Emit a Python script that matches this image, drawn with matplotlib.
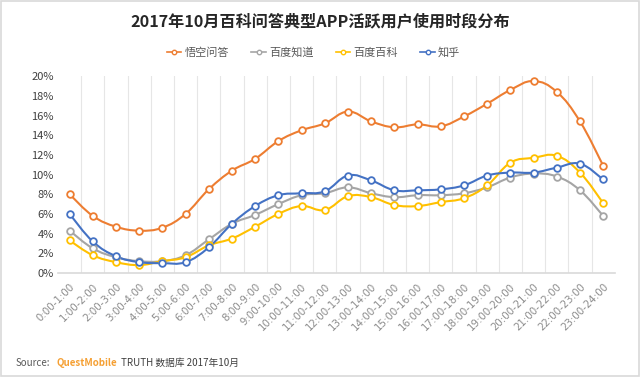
import numpy as np
import matplotlib
matplotlib.use("Agg")
import matplotlib.pyplot as plt
from matplotlib.path import Path
from matplotlib.patches import PathPatch, Rectangle
from matplotlib.lines import Line2D
from matplotlib.ticker import FuncFormatter

plt.rcParams['font.family'] = ['Noto Sans CJK SC', 'DejaVu Sans']

hours = [f"{h}:00-{h + 1}:00" for h in range(24)]
wukong = [8.0, 5.8, 4.7, 4.3, 4.6, 6.0, 8.5, 10.4, 11.6, 13.4, 14.5, 15.2,
          16.4, 15.4, 14.8, 15.1, 14.9, 15.9, 17.2, 18.6, 19.5, 18.4, 15.4, 10.9]
zhidao = [4.3, 2.5, 1.6, 1.2, 1.2, 1.8, 3.4, 5.0, 5.9, 7.0, 7.9, 8.1,
          8.7, 8.1, 7.7, 7.9, 7.9, 8.1, 8.7, 9.7, 10.1, 9.8, 8.4, 5.8]
baike = [3.3, 1.8, 1.1, 0.8, 1.2, 1.6, 2.8, 3.5, 4.7, 6.0, 6.8, 6.4,
         7.8, 7.7, 6.9, 6.8, 7.2, 7.6, 8.9, 11.2, 11.7, 11.9, 10.2, 7.1]
zhihu = [6.0, 3.2, 1.7, 1.1, 1.0, 1.1, 2.6, 5.0, 6.8, 7.9, 8.1, 8.3,
         9.9, 9.4, 8.4, 8.4, 8.5, 8.9, 9.9, 10.2, 10.2, 10.7, 11.1, 9.5]
names = ['悟空问答', '百度知道', '百度百科', '知乎']
colors = ['#ED7D31', '#A5A5A5', '#FFC000', '#4472C4']


def smooth_path(x, y, k=0.2):
    # bezier curve through the points (like excel smoothed line)
    x = np.asarray(x, float)
    y = np.asarray(y, float)
    verts = [(x[0], y[0])]
    codes = [Path.MOVETO]
    n = len(x)
    for i in range(n - 1):
        p0 = (x[max(i - 1, 0)], y[max(i - 1, 0)])
        p3 = (x[min(i + 2, n - 1)], y[min(i + 2, n - 1)])
        c1 = (x[i] + k * (x[i + 1] - p0[0]), y[i] + k * (y[i + 1] - p0[1]))
        c2 = (x[i + 1] - k * (p3[0] - x[i]), y[i + 1] - k * (p3[1] - y[i]))
        verts += [c1, c2, (x[i + 1], y[i + 1])]
        codes += [Path.CURVE4] * 3
    return Path(verts, codes)


fig = plt.figure(figsize=(6.4, 3.77), dpi=100)
fig.patches.append(Rectangle((0.002, 0.003), 0.996, 0.994, transform=fig.transFigure,
                             fill=False, edgecolor='#d9d9d9', lw=1.2))
ax = fig.add_axes([0.0906, 0.276, 0.870, 0.522])

x = np.arange(len(hours))
for data, c in zip([wukong, zhidao, baike, zhihu], colors):
    ax.add_patch(PathPatch(smooth_path(x, data), fill=False, edgecolor=c, lw=1.5, zorder=3))
    ax.plot(x, data, ls='none', marker='o', ms=4.8, mfc='white', mec=c, mew=1.3, zorder=4)

ax.set_xlim(-0.5, 23.5)
ax.set_ylim(0, 20)
ax.set_yticks(range(0, 21, 2))
ax.yaxis.set_major_formatter(FuncFormatter(lambda v, p: f"{int(v)}%"))
ax.set_xticks(x)
ax.set_xticklabels(hours, rotation=45, ha='right', rotation_mode='anchor',
                   fontsize=7.4, color='#8c8c8c', family='DejaVu Sans')
for t in ax.get_yticklabels():
    t.set_fontsize(8)
    t.set_color('#404040')
ax.tick_params(length=0, pad=3)
ax.tick_params(axis='x', pad=6)
for b in np.arange(0.5, 23.5, 1):
    ax.axvline(b, color='#e6e6e6', lw=0.8, zorder=1)
for s in ['top', 'right', 'left']:
    ax.spines[s].set_visible(False)
ax.spines['bottom'].set_color('#d9d9d9')
ax.spines['bottom'].set_linewidth(1.2)

fig.text(0.5, 0.945, '2017年10月百科问答典型APP活跃用户使用时段分布', ha='center', va='center',
         fontsize=11.6, fontweight='bold', color='#262626')
handles = [Line2D([], [], color=c, lw=1.2, marker='o', ms=3.2, mfc='white', mec=c)
           for c in colors]
fig.legend(handles, names, loc='center', bbox_to_anchor=(0.49, 0.86), ncol=4, frameon=False,
           fontsize=8, handlelength=1.3, handletextpad=0.3, columnspacing=2.0,
           labelcolor='#595959')

# source line, pieces chained one after the other
t1 = fig.text(0.025, 0.037, 'Source:', fontsize=7, color='#595959', va='center')
t2 = fig.text(0, 0, 'QuestMobile', fontsize=7, color='#F5A034', fontweight='bold', va='center')
t3 = fig.text(0, 0, 'TRUTH 数据库 2017年10月', fontsize=7, color='#404040', va='center')
fig.canvas.draw()
r = fig.canvas.get_renderer()
bb1 = t1.get_window_extent(r).transformed(fig.transFigure.inverted())
t2.set_position((bb1.x1 + 0.01, 0.037))
bb2 = t2.get_window_extent(r).transformed(fig.transFigure.inverted())
t3.set_position((bb2.x1 + 0.005, 0.037))

fig.savefig('out.png', dpi=100)
